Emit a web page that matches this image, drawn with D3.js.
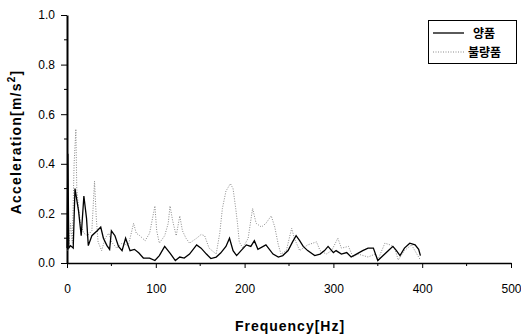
<!DOCTYPE html>
<html>
<head>
<meta charset="utf-8">
<script src="https://cdn.jsdelivr.net/npm/d3@7"></script>
<style>
  body { margin: 0; background: #fff; }
  text { font-family: "Liberation Sans", Arial, sans-serif; }
</style>
</head>
<body>
<div id="chart"></div>
<script>
// frequency [Hz] / acceleration [m/s^2]
const goodFreq = [0, 1, 2, 4, 7, 9, 13, 16, 19, 22, 24, 28, 34, 38, 41, 45, 48, 50, 54, 58, 62, 66, 71, 76, 81, 86, 93, 99, 104, 110, 116, 122, 127, 132, 138, 146, 151, 157, 162, 168, 173, 179, 183, 187, 191, 196, 202, 207, 211, 215, 224, 232, 238, 243, 249, 254, 258, 262, 266, 271, 279, 285, 290, 294, 300, 303, 309, 315, 320, 326, 333, 339, 345, 350, 356, 362, 367, 371, 375, 380, 386, 392, 396, 398];
const goodAcc = [0.06, 0.44, 0.06, 0.07, 0.06, 0.30, 0.21, 0.11, 0.27, 0.18, 0.07, 0.11, 0.13, 0.145, 0.10, 0.07, 0.055, 0.13, 0.11, 0.067, 0.05, 0.10, 0.05, 0.055, 0.04, 0.02, 0.02, 0.01, 0.03, 0.067, 0.04, 0.01, 0.024, 0.02, 0.036, 0.073, 0.06, 0.036, 0.018, 0.024, 0.04, 0.067, 0.10, 0.05, 0.03, 0.05, 0.073, 0.067, 0.09, 0.055, 0.073, 0.036, 0.024, 0.03, 0.05, 0.085, 0.11, 0.09, 0.067, 0.05, 0.03, 0.036, 0.05, 0.067, 0.042, 0.05, 0.036, 0.042, 0.024, 0.036, 0.05, 0.06, 0.06, 0.01, 0.03, 0.05, 0.067, 0.05, 0.03, 0.06, 0.08, 0.073, 0.055, 0.03];

const badFreq = [0, 2, 4, 6, 8, 10, 11, 13, 15, 19, 23, 28, 31, 33, 35, 39, 43, 47, 50, 56, 62, 69, 75, 78, 82, 88, 93, 99, 101, 104, 110, 114, 116, 119, 123, 127, 130, 134, 138, 146, 151, 155, 160, 168, 172, 175, 179, 184, 187, 190, 192, 194, 198, 204, 209, 213, 219, 224, 230, 234, 238, 241, 247, 253, 256, 262, 271, 281, 285, 292, 298, 305, 309, 317, 322, 328, 339, 347, 350, 358, 364, 369, 373, 380, 388, 394, 398];
const badAcc = [0.05, 0.06, 0.16, 0.08, 0.40, 0.54, 0.30, 0.22, 0.16, 0.12, 0.11, 0.13, 0.33, 0.18, 0.085, 0.05, 0.10, 0.12, 0.085, 0.06, 0.08, 0.07, 0.16, 0.12, 0.11, 0.09, 0.12, 0.23, 0.13, 0.08, 0.11, 0.16, 0.23, 0.17, 0.11, 0.19, 0.13, 0.10, 0.08, 0.10, 0.115, 0.11, 0.06, 0.036, 0.12, 0.22, 0.29, 0.32, 0.30, 0.22, 0.16, 0.085, 0.06, 0.10, 0.22, 0.16, 0.145, 0.16, 0.19, 0.145, 0.073, 0.036, 0.05, 0.14, 0.10, 0.05, 0.073, 0.085, 0.05, 0.036, 0.05, 0.10, 0.06, 0.067, 0.024, 0.036, 0.024, 0.036, 0.012, 0.08, 0.073, 0.06, 0.012, 0.05, 0.073, 0.036, 0.012];

const xTicks = [0, 100, 200, 300, 400, 500];
const yTicks = [0.0, 0.2, 0.4, 0.6, 0.8, 1.0];
const seriesNames = ["양품", "불량품"];

const width = 521, height = 335;
const margin = { top: 15, right: 10, bottom: 72, left: 67 };

const svg = d3.select("#chart").append("svg")
    .attr("width", width)
    .attr("height", height);

const x = d3.scaleLinear().domain([0, 500]).range([margin.left, 511]);
const y = d3.scaleLinear().domain([0, 1]).range([263, margin.top]);

// minor ticks
const minorX = d3.range(50, 500, 100);
const minorY = d3.range(0.1, 1, 0.2);

svg.append("g")
    .selectAll("line")
    .data(minorX)
    .join("line")
    .attr("x1", d => x(d)).attr("x2", d => x(d))
    .attr("y1", 263).attr("y2", 266)
    .attr("stroke", "#000");

svg.append("g")
    .selectAll("line")
    .data(minorY)
    .join("line")
    .attr("x1", 64).attr("x2", 67)
    .attr("y1", d => y(d)).attr("y2", d => y(d))
    .attr("stroke", "#000");

// axes
const xAxis = svg.append("g")
    .attr("transform", "translate(0,263)")
    .call(d3.axisBottom(x).tickValues(xTicks).tickSize(5).tickSizeOuter(0).tickPadding(16));
xAxis.select(".domain").attr("stroke-width", 1.3);
xAxis.selectAll("text").attr("font-size", 12).attr("font-family", "Liberation Sans, Arial, sans-serif");

const yAxis = svg.append("g")
    .attr("transform", `translate(${margin.left},0)`)
    .call(d3.axisLeft(y).tickValues(yTicks).tickFormat(d3.format(".1f")).tickSize(6).tickSizeOuter(0).tickPadding(6));
yAxis.select(".domain").attr("stroke-width", 2);
yAxis.selectAll("text").attr("font-size", 12).attr("font-family", "Liberation Sans, Arial, sans-serif");

// lines
const line = d3.line()
    .x(d => x(d[0]))
    .y(d => y(d[1]));

svg.append("path")
    .datum(d3.zip(badFreq, badAcc))
    .attr("fill", "none")
    .attr("stroke", "#8a8a8a")
    .attr("stroke-width", 1)
    .attr("stroke-dasharray", "1,1.5")
    .attr("d", line);

svg.append("path")
    .datum(d3.zip(goodFreq, goodAcc))
    .attr("fill", "none")
    .attr("stroke", "#000")
    .attr("stroke-width", 1.3)
    .attr("d", line);

// axis titles
svg.append("text")
    .attr("x", 290)
    .attr("y", 331)
    .attr("text-anchor", "middle")
    .attr("font-size", 14)
    .attr("letter-spacing", 1)
    .attr("font-weight", "bold")
    .text("Frequency[Hz]");

const yTitle = svg.append("text")
    .attr("transform", "translate(21,142) rotate(-90)")
    .attr("text-anchor", "middle")
    .attr("font-size", 14)
    .attr("letter-spacing", 1.2)
    .attr("font-weight", "bold");
yTitle.append("tspan").text("Acceleration[m/s");
yTitle.append("tspan").attr("font-size", 10).attr("dy", -6).text("2");
yTitle.append("tspan").attr("dy", 6).text("]");

// legend
const legend = svg.append("g");
legend.append("rect")
    .attr("x", 428.5).attr("y", 20.5)
    .attr("width", 88).attr("height", 43)
    .attr("fill", "#fff")
    .attr("stroke", "#000");

const legendStyles = [
    { stroke: "#000", width: 1.3, dash: null },
    { stroke: "#8a8a8a", width: 1, dash: "1,1.5" }
];
seriesNames.forEach((name, i) => {
    const ly = 33 + i * 19;
    legend.append("line")
        .attr("x1", 433).attr("x2", 464)
        .attr("y1", ly).attr("y2", ly)
        .attr("stroke", legendStyles[i].stroke)
        .attr("stroke-width", legendStyles[i].width)
        .attr("stroke-dasharray", legendStyles[i].dash);
    legend.append("text")
        .attr("x", i === 0 ? 473 : 468)
        .attr("y", ly + 4.5)
        .attr("font-size", 12)
        .attr("font-weight", "bold")
        .style("font-family", "'Noto Sans CJK KR', sans-serif")
        .text(name);
});
</script>
</body>
</html>
